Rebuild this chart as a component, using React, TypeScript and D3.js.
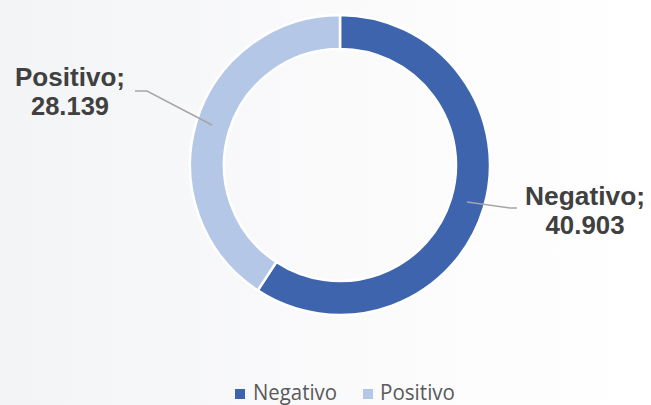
import React, { useRef, useEffect } from 'react';
import * as d3 from 'd3';

const categories = ['Negativo', 'Positivo'];
const values = [40903, 28139];
const labelText = ['40.903', '28.139'];
const colors = ['#3D64AD', '#B4C7E7'];

const W = 651;
const H = 405;

const App = () => {
  const ref = useRef<SVGSVGElement>(null);

  useEffect(() => {
    const svg = d3.select(ref.current);
    svg.selectAll('*').remove();

    const defs = svg.append('defs');
    const grad = defs.append('linearGradient')
      .attr('id', 'bg')
      .attr('x1', '0').attr('y1', '0')
      .attr('x2', '1').attr('y2', '0');
    grad.append('stop').attr('offset', '0%').attr('stop-color', '#f3f4f6');
    grad.append('stop').attr('offset', '60%').attr('stop-color', '#fbfbfc');
    grad.append('stop').attr('offset', '100%').attr('stop-color', '#ffffff');

    svg.append('rect')
      .attr('width', W)
      .attr('height', H)
      .attr('fill', 'url(#bg)');

    const cx = 340;
    const cy = 165;
    const outer = 150;
    const inner = 116;

    const pie = d3.pie<number>().sort(null).value(d => d);
    const arcs = pie(values);
    const arc = d3.arc<d3.PieArcDatum<number>>()
      .innerRadius(inner)
      .outerRadius(outer);

    const g = svg.append('g').attr('transform', `translate(${cx},${cy})`);
    g.selectAll('path')
      .data(arcs)
      .enter()
      .append('path')
      .attr('d', arc)
      .attr('fill', (_, i) => colors[i])
      .attr('stroke', '#ffffff')
      .attr('stroke-width', 2.5);

    // leader lines + labels
    const leaders = [
      { pts: [[467, 202], [510, 208], [517, 208]], tx: 585, ty: 205 },
      { pts: [[212, 125], [147, 91], [135, 91]], tx: 70, ty: 86 },
    ];
    const line = d3.line();
    leaders.forEach((l, i) => {
      svg.append('path')
        .attr('d', line(l.pts as [number, number][]))
        .attr('fill', 'none')
        .attr('stroke', '#a6a6a6')
        .attr('stroke-width', 1.5);
      const t = svg.append('text')
        .attr('x', l.tx)
        .attr('y', l.ty)
        .attr('text-anchor', 'middle')
        .attr('font-family', 'Liberation Sans, Arial, sans-serif')
        .attr('font-weight', 'bold')
        .attr('font-size', 26)
        .attr('fill', '#404040');
      t.append('tspan').attr('x', l.tx).attr('textLength', i === 0 ? 120 : 110).attr('lengthAdjust', 'spacingAndGlyphs').text(`${categories[i]};`);
      t.append('tspan').attr('x', l.tx).attr('dy', 28.5).attr('textLength', i === 0 ? 79 : 78).attr('lengthAdjust', 'spacingAndGlyphs').text(labelText[i]);
    });

    // legend
    const legend = [
      { sx: 235, tx: 253, w: 84 },
      { sx: 363, tx: 380, w: 75 },
    ];
    legend.forEach((lg, i) => {
      svg.append('rect')
        .attr('x', lg.sx)
        .attr('y', 389)
        .attr('width', 10)
        .attr('height', 10)
        .attr('fill', colors[i]);
      svg.append('text')
        .attr('x', lg.tx)
        .attr('y', 400)
        .attr('font-family', 'Open Sans, Noto Sans, sans-serif')
        .attr('font-size', 21)
        .attr('textLength', lg.w)
        .attr('lengthAdjust', 'spacingAndGlyphs')
        .attr('fill', '#595959')
        .text(categories[i]);
    });
  }, []);

  return (
    <svg
      ref={ref}
      width={W}
      height={H}
      style={{ position: 'absolute', top: 0, left: 0, display: 'block' }}
    />
  );
};

export default App;
